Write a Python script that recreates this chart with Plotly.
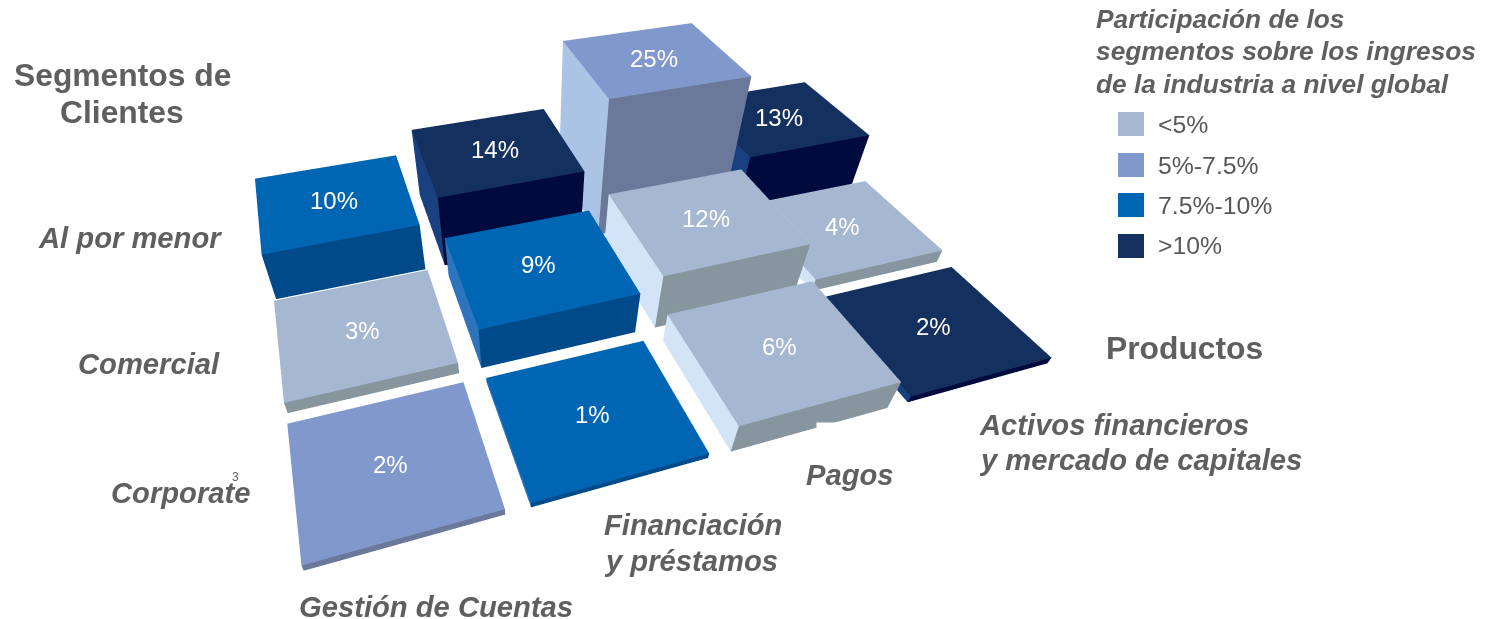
import plotly.graph_objects as go

# rows run front to back, columns left to right
segments = ["Corporate", "Comercial", "Al por menor"]
products = ["Gestión de Cuentas", "Financiación y préstamos", "Pagos", "Activos financieros y mercado de capitales"]
shares = [[2, 1, 6, 2],
          [3, 9, 12, 4],
          [10, 14, 25, 13]]
bucket = [[1, 2, 0, 3],
          [0, 2, 0, 0],
          [2, 3, 1, 3]]
heights = [[0.05, 0.04, 0.22, 0.05],
           [0.09, 0.32, 0.42, 0.10],
           [0.37, 0.55, 1.04, 0.42]]
bucket_names = ["<5%", "5%-7.5%", "7.5%-10%", ">10%"]
top_colors = ["#A6B7D1", "#8098CC", "#0066B3", "#14305F"]
front_colors = ["#87969E", "#6A7899", "#004A8A", "#000A3C"]
side_colors = ["#D3E4F6", "#ABC4E6", "#2E74BC", "#1B4080"]

TILE = 0.88
pad = (1 - TILE) / 2
vx, vy, vz, fi, fj, fk, fc = [], [], [], [], [], [], []


def add_quad(a, b, c, d, color):
    n = len(vx)
    for p in (a, b, c, d):
        vx.append(p[0]); vy.append(p[1]); vz.append(p[2])
    fi.extend([n, n]); fj.extend([n + 1, n + 2]); fk.extend([n + 2, n + 3])
    fc.extend([color, color])


for r in range(len(segments)):
    for c in range(len(products)):
        b = bucket[r][c]
        h = heights[r][c]
        x0, x1, y0, y1 = c + pad, c + 1 - pad, r + pad, r + 1 - pad
        add_quad((x0, y0, h), (x1, y0, h), (x1, y1, h), (x0, y1, h), top_colors[b])
        add_quad((x0, y0, 0), (x1, y0, 0), (x1, y0, h), (x0, y0, h), front_colors[b])
        add_quad((x0, y0, 0), (x0, y1, 0), (x0, y1, h), (x0, y0, h), side_colors[b])
        add_quad((x1, y0, 0), (x1, y1, 0), (x1, y1, h), (x1, y0, h), side_colors[b])

fig = go.Figure()
fig.add_trace(go.Mesh3d(x=vx, y=vy, z=vz, i=fi, j=fj, k=fk, facecolor=fc, flatshading=True,
                        lighting=dict(ambient=1, diffuse=0, specular=0, roughness=1, fresnel=0),
                        hoverinfo="skip", showscale=False))

scene_notes = []
for r in range(len(segments)):
    for c in range(len(products)):
        scene_notes.append(dict(x=c + 0.5, y=r + 0.5, z=heights[r][c], text=f"{shares[r][c]}%", showarrow=False,
                                font=dict(family="Liberation Sans", size=24, color="white")))

GREY = "#5F5F5F"
FONT = "Liberation Sans"


def label(px, py, text, size=29.2, anchor="left", color=GREY):
    fig.add_annotation(xref="paper", yref="paper", x=px / 1496, y=1 - py / 619, text=text, showarrow=False,
                       xanchor=anchor, yanchor="middle", borderpad=0,
                       font=dict(family=FONT, size=size, color=color))


# the white patch that cuts the corner of the Pagos block in the source picture
fig.add_annotation(xref="paper", yref="paper", x=855 / 1496, y=1 - 441 / 619, text=" ", showarrow=False,
                   xanchor="center", yanchor="middle", width=76, height=36, bgcolor="white", borderpad=0)

label(122, 75, "<b>Segmentos de</b>", 31.8, "center")
label(122, 112, "<b>Clientes</b>", 31.8, "center")
label(37, 238, "<b><i>Al por menor</i></b>")
label(77, 364, "<b><i>Comercial</i></b>")
label(110, 493, "<b><i>Corporate</i></b>")
label(298, 607, "<b><i>Gestión de Cuentas</i></b>")
label(603, 525, "<b><i>Financiación</i></b>")
label(603, 561, "<b><i>y préstamos</i></b>")
label(805, 475, "<b><i>Pagos</i></b>")
label(978, 425, "<b><i>Activos financieros</i></b>")
label(978, 460, "<b><i>y mercado de capitales</i></b>")
label(1105, 348, "<b>Productos</b>", 31.8)
label(1095, 19, "<b><i>Participación de los</i></b>", 26.3)
label(1095, 51, "<b><i>segmentos sobre los ingresos</i></b>", 26.3)
label(1095, 84, "<b><i>de la industria a nivel global</i></b>", 26.3)
label(231, 477, "3", 12)

# legend key
key_rows = [124, 165, 205, 246]
for name, col, row in zip(bucket_names, top_colors, key_rows):
    fig.add_shape(type="rect", xref="paper", yref="paper", x0=1118 / 1496, x1=1144 / 1496,
                  y0=1 - (row + 12) / 619, y1=1 - (row - 12) / 619, fillcolor=col, line=dict(width=0))
    label(1157, row, name.replace("<", "&lt;").replace(">", "&gt;"), 24.8, color="#585858")

fig.update_layout(
    width=1496, height=619, margin=dict(l=0, r=0, t=0, b=0), paper_bgcolor="white",
    showlegend=False,
    scene=dict(domain=dict(x=[0, 0.71], y=[0, 1]), aspectmode="manual", aspectratio=dict(x=1.1, y=0.72, z=0.3),
               xaxis=dict(visible=False, range=[0, 4]), yaxis=dict(visible=False, range=[0, 3]),
               zaxis=dict(visible=False, range=[0, 1.2]),
               camera=dict(eye=dict(x=-0.4068, y=-0.8163, z=0.666), center=dict(x=-0.1528, y=-0.0103, z=-0.15),
                           up=dict(x=0, y=0, z=1), projection=dict(type="perspective")),
               annotations=scene_notes),
)
fig.write_html("out.html", post_script="document.body.style.margin='0';", config=dict(displayModeBar=False))
